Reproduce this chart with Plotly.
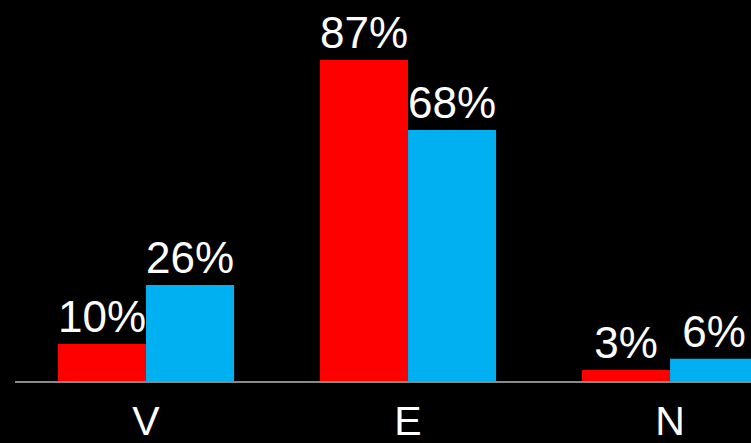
import plotly.graph_objects as go

categories = ["V", "E", "N"]
red_values = [10, 87, 3]
blue_values = [26, 68, 6]

fig = go.Figure()
fig.add_trace(go.Bar(
    x=categories, y=red_values, marker=dict(color="#FF0000", line=dict(width=0)),
    text=[f"{v}%" for v in red_values], textposition="outside",
    textfont=dict(color="white", size=44, family="Liberation Sans, Arial"),
    constraintext="none", cliponaxis=False, showlegend=False,
))
fig.add_trace(go.Bar(
    x=categories, y=blue_values, marker=dict(color="#00B0F0", line=dict(width=0)),
    text=[f"{v}%" for v in blue_values], textposition="outside",
    textfont=dict(color="white", size=44, family="Liberation Sans, Arial"),
    constraintext="none", cliponaxis=False, showlegend=False,
))

fig.update_layout(
    width=751, height=443,
    margin=dict(l=15, r=0, t=0, b=62, autoexpand=False),
    paper_bgcolor="black", plot_bgcolor="black",
    barmode="group", bargap=0.328, bargroupgap=0,
    font=dict(family="Liberation Sans, Arial", color="white"),
    xaxis=dict(
        range=[-0.5, 2.309], showgrid=False, zeroline=False,
        showline=True, linecolor="#898989", linewidth=2,
        ticks="", tickfont=dict(size=41, color="white"),
        ticklabelstandoff=3, automargin=False,
    ),
    yaxis=dict(range=[0, 103.25], visible=False, showgrid=False, zeroline=False,
               automargin=False),
)

fig.write_html("out.html")
